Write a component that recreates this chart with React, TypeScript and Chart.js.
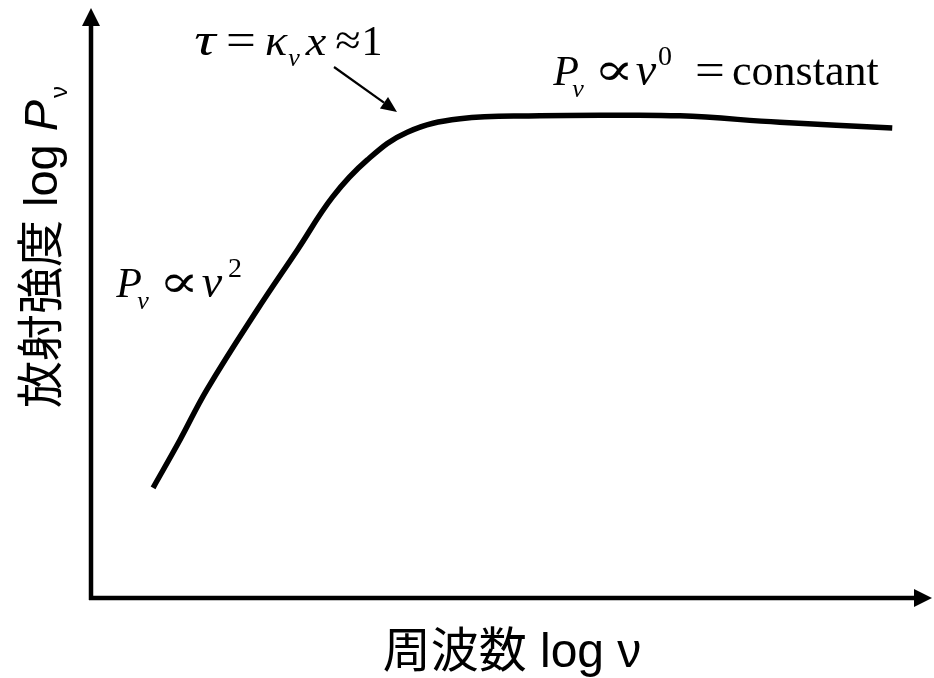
import { useEffect, useRef } from "react";
import { Chart, registerables } from "chart.js";

Chart.register(...registerables);

// Spectrum: log frequency vs. log emitted power (arbitrary units, 0–100)
const logNu = [7.4, 10.6, 13.8, 19.8, 24.6, 28.8, 32.9, 37.7, 44.0, 53.5, 61.5, 70.2, 82.1, 95.5];
const logP = [18.9, 27.1, 35.7, 49.4, 59.7, 68.8, 75.1, 79.9, 82.2, 82.7, 82.8, 82.7, 81.6, 80.6];

const xTitle = "周波数 log ν";
const yTitleMain = "放射強度 log ";

const SERIF = '"Liberation Serif", "DejaVu Serif", serif';
const SANS = '"Liberation Sans", "Noto Sans CJK JP", sans-serif';

// a glyph placed by its horizontal centre (or left edge when left is set), optionally widened by sx
type Glyph = { t: string; cx: number; it?: boolean; sz: number; dy?: number; left?: boolean; sx?: number };

function drawGlyphs(ctx: CanvasRenderingContext2D, glyphs: Glyph[], baseline: number) {
  for (const g of glyphs) {
    ctx.save();
    ctx.font = `${g.it ? "italic " : ""}${g.sz}px ${SERIF}`;
    ctx.textAlign = g.left ? "left" : "center";
    ctx.translate(g.cx, baseline + (g.dy ?? 0));
    ctx.scale(g.sx ?? 1, 1);
    ctx.fillText(g.t, 0, 0);
    ctx.restore();
  }
}

type Run = { t: string; it?: boolean; sz: number; dy?: number; pre?: number };

function measureRuns(ctx: CanvasRenderingContext2D, runs: Run[], family: string) {
  let w = 0;
  for (const r of runs) {
    w += r.pre ?? 0;
    ctx.font = `${r.it ? "italic " : ""}${r.sz}px ${family}`;
    w += ctx.measureText(r.t).width;
  }
  return w;
}

function drawRuns(ctx: CanvasRenderingContext2D, runs: Run[], x: number, y: number, family: string) {
  let cx = x;
  ctx.textAlign = "left";
  for (const r of runs) {
    cx += r.pre ?? 0;
    ctx.font = `${r.it ? "italic " : ""}${r.sz}px ${family}`;
    ctx.fillText(r.t, cx, y + (r.dy ?? 0));
    cx += ctx.measureText(r.t).width;
  }
}

function arrowLine(ctx: CanvasRenderingContext2D, x1: number, y1: number, x2: number, y2: number, width: number, headLen: number, headHalf: number) {
  const ang = Math.atan2(y2 - y1, x2 - x1);
  const bx = x2 - headLen * Math.cos(ang);
  const by = y2 - headLen * Math.sin(ang);
  ctx.beginPath();
  ctx.lineWidth = width;
  ctx.lineCap = "butt";
  ctx.moveTo(x1, y1);
  ctx.lineTo(bx, by);
  ctx.stroke();
  ctx.beginPath();
  ctx.moveTo(x2, y2);
  ctx.lineTo(bx + headHalf * Math.sin(ang), by - headHalf * Math.cos(ang));
  ctx.lineTo(bx - headHalf * Math.sin(ang), by + headHalf * Math.cos(ang));
  ctx.closePath();
  ctx.fill();
}

const decorations = {
  id: "decorations",
  beforeDatasetsDraw(chart: Chart) {
    const { ctx, chartArea } = chart;
    const { left, right, top, bottom } = chartArea;
    ctx.save();
    ctx.strokeStyle = "#000";
    ctx.fillStyle = "#000";
    // axes with arrow heads
    arrowLine(ctx, left, bottom + 2, left, top - 7, 4.5, 18, 9);
    arrowLine(ctx, left - 2, bottom, right + 2, bottom, 4.5, 18, 9);
    ctx.restore();
  },
  afterDraw(chart: Chart) {
    const { ctx } = chart;
    ctx.save();
    ctx.fillStyle = "#000";
    ctx.strokeStyle = "#000";
    ctx.textBaseline = "alphabetic";

    // x-axis title
    ctx.font = `48px ${SANS}`;
    ctx.textAlign = "left";
    const xw = ctx.measureText(xTitle).width;
    ctx.fillText(xTitle, 512 - xw / 2, 667);

    // y-axis title (rotated)
    const yRuns: Run[] = [
      { t: yTitleMain, sz: 47 },
      { t: "P", sz: 47, it: true },
      { t: "ν", sz: 24, dy: 10, pre: 2 },
    ];
    const yw = measureRuns(ctx, yRuns, SANS);
    ctx.save();
    ctx.translate(57, 247);
    ctx.rotate(-Math.PI / 2);
    drawRuns(ctx, yRuns, -yw / 2, 0, SANS);
    ctx.restore();

    // optical depth annotation
    drawGlyphs(
      ctx,
      [
        { t: "τ", cx: 205, it: true, sz: 46, sx: 1.3 },
        { t: "=", cx: 241, sz: 46, sx: 1.15 },
        { t: "κ", cx: 276, it: true, sz: 44, sx: 1.05 },
        { t: "ν", cx: 294, it: true, sz: 26, dy: 11 },
        { t: "x", cx: 316, it: true, sz: 42, sx: 1.1 },
        { t: "≈", cx: 348, sz: 44, sx: 1.05 },
        { t: "1", cx: 372, sz: 42 },
      ],
      55
    );
    arrowLine(ctx, 334, 67, 397, 112, 2.2, 16, 7);

    // flat part
    drawGlyphs(
      ctx,
      [
        { t: "P", cx: 566, it: true, sz: 42 },
        { t: "ν", cx: 578, it: true, sz: 26, dy: 12 },
        { t: "∝", cx: 614, sz: 46, sx: 1.3 },
        { t: "ν", cx: 646, it: true, sz: 46 },
        { t: "0", cx: 665, sz: 28, dy: -20 },
        { t: "=", cx: 710, sz: 46, sx: 1.15 },
        { t: "constant", cx: 732, sz: 44, left: true },
      ],
      85
    );

    // rising part
    drawGlyphs(
      ctx,
      [
        { t: "P", cx: 129, it: true, sz: 42 },
        { t: "ν", cx: 143, it: true, sz: 26, dy: 12 },
        { t: "∝", cx: 179, sz: 46, sx: 1.3 },
        { t: "ν", cx: 212, it: true, sz: 46 },
        { t: "2", cx: 235, sz: 28, dy: -20 },
      ],
      297
    );
    ctx.restore();
  },
};

export default function App() {
  const canvasRef = useRef<HTMLCanvasElement | null>(null);

  useEffect(() => {
    const canvas = canvasRef.current;
    if (!canvas) return;
    const chart = new Chart(canvas, {
      type: "line",
      data: {
        datasets: [
          {
            data: logNu.map((x, i) => ({ x, y: logP[i] })),
            borderColor: "#000",
            borderWidth: 5.5,
            pointRadius: 0,
            tension: 0.4,
            fill: false,
          },
        ],
      },
      options: {
        animation: false,
        responsive: false,
        maintainAspectRatio: false,
        layout: { padding: { left: 91, right: 4, top: 15, bottom: 80 } },
        plugins: { legend: { display: false }, tooltip: { enabled: false } },
        scales: {
          x: { type: "linear", min: 0, max: 100, display: false },
          y: { type: "linear", min: 0, max: 100, display: false },
        },
      },
      plugins: [decorations],
    });
    return () => chart.destroy();
  }, []);

  return (
    <div style={{ position: "fixed", left: 0, top: 0, width: 934, height: 678, background: "#fff" }}>
      <canvas ref={canvasRef} width={934} height={678} style={{ display: "block" }} />
    </div>
  );
}
